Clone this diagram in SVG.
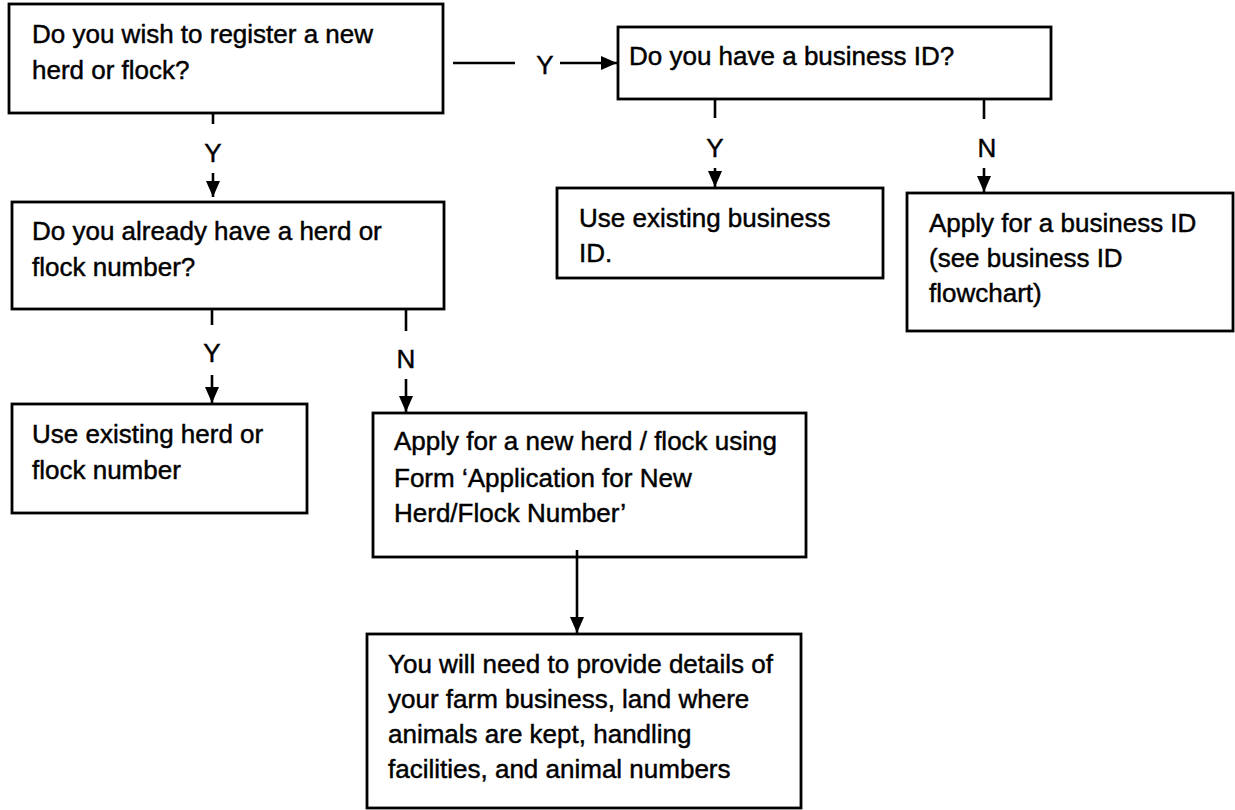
<svg xmlns="http://www.w3.org/2000/svg" width="1235" height="810" viewBox="0 0 1235 810">
<defs>
<style>
.box{fill:#fff;stroke:#000;stroke-width:2.8}
.t{font-family:"Liberation Sans",Arial,sans-serif;font-size:26px;fill:#000;stroke:#000;stroke-width:0.45}
.lbl{font-family:"Liberation Sans",Arial,sans-serif;font-size:26px;fill:#000;stroke:#000;stroke-width:0.45;text-anchor:middle}
.c{stroke:#000;stroke-width:2.6;fill:none}
</style>
<marker id="ah" markerUnits="userSpaceOnUse" markerWidth="16" markerHeight="14" refX="16" refY="7" orient="auto">
<path d="M0,0 L16,7 L0,14 Z" fill="#000"/>
</marker>
</defs>
<rect width="1235" height="810" fill="#fff"/>
<g id="n1">
<rect class="box" x="9" y="4" width="434" height="109"/>
<text class="t" x="32" y="43">Do you wish to register a new</text>
<text class="t" x="32" y="79">herd or flock?</text>
</g>
<g id="n2">
<rect class="box" x="618" y="27" width="433" height="72"/>
<text class="t" x="629" y="65">Do you have a business ID?</text>
</g>
<g id="n3">
<rect class="box" x="12" y="202" width="432" height="107"/>
<text class="t" x="32" y="240">Do you already have a herd or</text>
<text class="t" x="32" y="276">flock number?</text>
</g>
<g id="n4">
<rect class="box" x="557" y="188" width="326" height="90"/>
<text class="t" x="579" y="227">Use existing business</text>
<text class="t" x="579" y="262">ID.</text>
</g>
<g id="n5">
<rect class="box" x="907" y="193" width="326" height="138"/>
<text class="t" x="929" y="232">Apply for a business ID</text>
<text class="t" x="929" y="267">(see business ID</text>
<text class="t" x="929" y="302">flowchart)</text>
</g>
<g id="n6">
<rect class="box" x="12" y="404" width="295" height="109"/>
<text class="t" x="32" y="443">Use existing herd or</text>
<text class="t" x="32" y="479">flock number</text>
</g>
<g id="n7">
<rect class="box" x="373" y="413" width="433" height="144"/>
<text class="t" x="394" y="450">Apply for a new herd / flock using</text>
<text class="t" x="394" y="487">Form ‘Application for New</text>
<text class="t" x="394" y="522">Herd/Flock Number’</text>
</g>
<g id="n8">
<rect class="box" x="367" y="634" width="434" height="174"/>
<text class="t" x="388" y="673">You will need to provide details of</text>
<text class="t" x="388" y="708">your farm business, land where</text>
<text class="t" x="388" y="743">animals are kept, handling</text>
<text class="t" x="388" y="778">facilities, and animal numbers</text>
</g>
<g id="connectors">
<line class="c" x1="453" y1="63" x2="515" y2="63"/>
<text class="lbl" x="545" y="74">Y</text>
<line class="c" x1="560" y1="63" x2="617" y2="63" marker-end="url(#ah)"/>
<line class="c" x1="213" y1="113" x2="213" y2="124"/>
<text class="lbl" x="213" y="162">Y</text>
<line class="c" x1="213" y1="173" x2="213" y2="197" marker-end="url(#ah)"/>
<line class="c" x1="715" y1="99" x2="715" y2="118"/>
<text class="lbl" x="715" y="157">Y</text>
<line class="c" x1="715" y1="168" x2="715" y2="187" marker-end="url(#ah)"/>
<line class="c" x1="984" y1="99" x2="984" y2="119"/>
<text class="lbl" x="987" y="157">N</text>
<line class="c" x1="984" y1="168" x2="984" y2="192" marker-end="url(#ah)"/>
<line class="c" x1="212" y1="309" x2="212" y2="325"/>
<text class="lbl" x="212" y="362">Y</text>
<line class="c" x1="212" y1="375" x2="212" y2="403" marker-end="url(#ah)"/>
<line class="c" x1="406" y1="309" x2="406" y2="331"/>
<text class="lbl" x="406" y="368">N</text>
<line class="c" x1="406" y1="379" x2="406" y2="412" marker-end="url(#ah)"/>
<line class="c" x1="577" y1="550" x2="577" y2="633" marker-end="url(#ah)"/>
</g>
</svg>
